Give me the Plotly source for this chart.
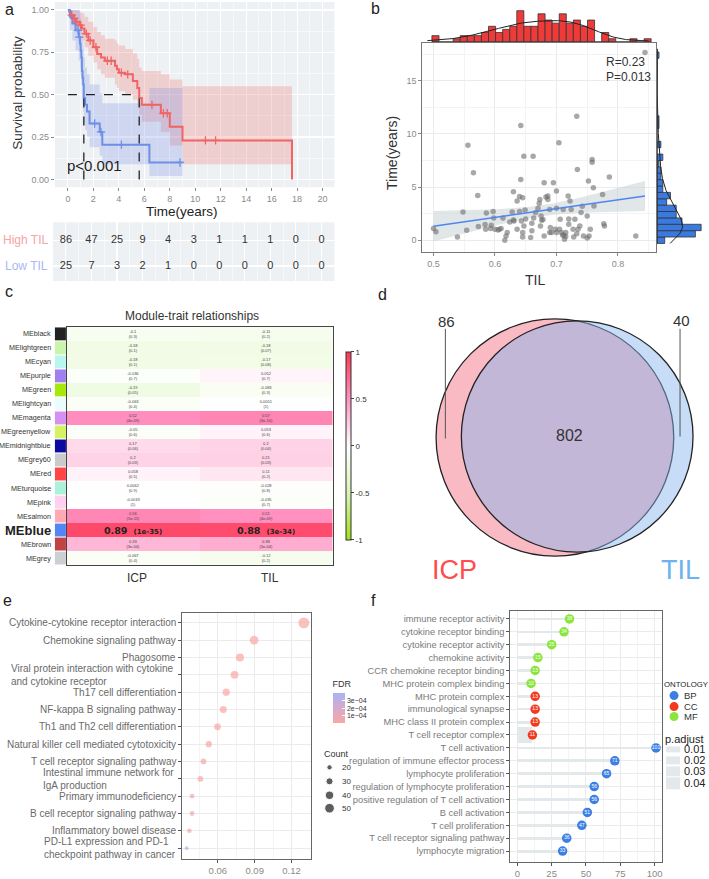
import numpy as np
import plotly.graph_objects as go

W, H = 709, 879
FONT = "Liberation Sans, Arial, sans-serif"
GREY_TXT = "#8a8a8a"

def dom_x(a, b):
    return [a / W, b / W]

def dom_y(top, bot):
    return [1 - bot / H, 1 - top / H]

# ---------------- panel a: Kaplan-Meier ----------------
high_t = [0, 0.1, 0.25, 0.4, 0.6, 0.9, 1.1, 1.3, 1.6, 2.0, 2.3, 2.6, 2.9, 3.7, 3.85, 4.0, 4.5, 5.1, 5.45, 5.6, 5.8, 7.3, 8.0, 9.0, 17.6]
high_s = [1.0, 0.99, 0.97, 0.95, 0.93, 0.91, 0.89, 0.86, 0.82, 0.78, 0.74, 0.72, 0.70, 0.67, 0.65, 0.63, 0.62, 0.58, 0.54, 0.48, 0.44, 0.39, 0.31, 0.23, 0.0]
high_up = [1.0, 1.0, 1.0, 1.0, 1.0, 0.99, 0.98, 0.96, 0.93, 0.90, 0.87, 0.85, 0.83, 0.82, 0.80, 0.79, 0.77, 0.745, 0.71, 0.66, 0.64, 0.62, 0.59, 0.55, 0.55]
high_lo = [1.0, 0.97, 0.94, 0.91, 0.88, 0.85, 0.82, 0.78, 0.73, 0.69, 0.65, 0.62, 0.60, 0.56, 0.54, 0.52, 0.50, 0.47, 0.43, 0.38, 0.34, 0.28, 0.20, 0.09, 0.09]
high_cens = [0.3, 0.5, 0.7, 1.0, 1.45, 1.75, 2.2, 3.1, 3.4, 4.2, 4.7, 6.6, 7.5, 7.8, 10.8, 11.6]

low_t = [0, 0.15, 0.35, 0.6, 0.85, 0.95, 1.0, 1.05, 1.1, 1.15, 1.2, 1.25, 1.35, 1.5, 1.7, 2.5, 2.7, 6.4, 9.0]
low_s = [1.0, 0.96, 0.92, 0.88, 0.84, 0.80, 0.76, 0.72, 0.64, 0.60, 0.56, 0.48, 0.44, 0.40, 0.33, 0.28, 0.205, 0.10, 0.10]
low_up = [1.0, 1.0, 1.0, 1.0, 1.0, 0.98, 0.95, 0.92, 0.86, 0.82, 0.78, 0.72, 0.66, 0.62, 0.56, 0.51, 0.45, 0.54, 0.54]
low_lo = [1.0, 0.88, 0.82, 0.76, 0.70, 0.66, 0.61, 0.56, 0.48, 0.44, 0.40, 0.33, 0.29, 0.25, 0.19, 0.14, 0.09, 0.02, 0.02]
low_cens = [0.8, 0.9, 2.1, 2.6, 4.2, 8.8]

risk_times = [0, 2, 4, 6, 8, 10, 12, 14, 16, 18, 20]
high_risk = [86, 47, 25, 9, 4, 3, 1, 1, 1, 0, 0]
low_risk = [25, 7, 3, 2, 1, 0, 0, 0, 0, 0, 0]
risk_groups = ["High TIL", "Low TIL"]
km_pvalue = "p<0.001"

# ---------------- panel b: scatter TIL vs time ----------------
b_til = [0.500, 0.504, 0.539, 0.548, 0.554, 0.556, 0.565, 0.572, 0.573, 0.586,
         0.584, 0.585, 0.593, 0.597, 0.598, 0.594, 0.600, 0.605, 0.607, 0.613,
         0.616, 0.618, 0.620, 0.624, 0.628, 0.630, 0.631, 0.636, 0.636, 0.640,
         0.642, 0.642, 0.643, 0.645, 0.645, 0.645, 0.647, 0.647, 0.649, 0.658,
         0.662, 0.663, 0.666, 0.672, 0.673, 0.674, 0.675, 0.676, 0.678, 0.680,
         0.683, 0.686, 0.686, 0.689, 0.689, 0.692, 0.695, 0.698, 0.700, 0.700,
         0.704, 0.705, 0.706, 0.708, 0.711, 0.712, 0.713, 0.715, 0.715, 0.719,
         0.722, 0.724, 0.727, 0.728, 0.730, 0.733, 0.735, 0.733, 0.734, 0.738,
         0.740, 0.742, 0.744, 0.750, 0.752, 0.753, 0.755, 0.758, 0.758, 0.760,
         0.761, 0.777, 0.778, 0.786, 0.775, 0.829, 0.844, 0.660, 0.690, 0.710,
         0.650, 0.610, 0.720, 0.700, 0.670, 0.680, 0.750, 0.660, 0.640, 0.630,
         0.720]
b_time = [1.10, 0.80, 0.30, 2.66, 0.94, 8.94, 6.34, 4.20, 1.28, 2.56,
          1.47, 1.03, 1.10, 2.70, 2.10, 1.40, 1.03, 0.97, 1.03, 2.10,
          0.00, 0.40, 0.72, 1.72, 2.66, 4.56, 1.80, 3.69, 1.03, 4.10,
          5.72, 10.78, 1.80, 4.00, 0.30, 0.72, 7.90, 1.34, 2.84, 0.25,
          7.90, 2.10, 2.60, 3.47, 3.84, 1.34, 2.28, 1.88, 1.94, 5.40,
          4.06, 3.84, 4.16, 0.72, 2.90, 0.72, 5.40, 1.03, 4.62, 0.72,
          9.16, 1.03, 1.97, 0.72, 2.90, 0.47, 0.10, 0.72, 0.34, 4.16,
          3.69, 2.90, 1.03, 0.30, 1.97, 0.62, 1.03, 11.66, 6.66, 1.34,
          2.60, 3.20, 0.40, 2.28, 5.56, 0.40, 1.03, 7.60, 7.34, 4.94,
          3.22, 1.56, 1.34, 5.94, 4.30, 0.40, 17.66, 0.90, 1.20, 0.50,
          2.00, 1.10, 1.50, 3.00, 3.00, 0.40, 0.20, 1.60, 2.70, 1.90,
          2.00]
b_stats = ["R=0.23", "P=0.013"]

# ---------------- panel c: module-trait heatmap ----------------
modules = ["MEblack", "MElightgreen", "MEcyan", "MEpurple", "MEgreen", "MElightcyan",
           "MEmagenta", "MEgreenyellow", "MEmidnightblue", "MEgrey60", "MEred",
           "MEturquoise", "MEpink", "MEsalmon", "MEblue", "MEbrown", "MEgrey"]
module_colors = ["#222222", "#c9f5aa", "#b9f6ef", "#a07ff0", "#a6e80a", "#eafcfc",
                 "#d590f2", "#d6f262", "#0a0aa0", "#c8cacc", "#ff4545",
                 "#aaf2d8", "#ffd0f0", "#ffa9b2", "#5485f6", "#c04242", "#cdd0d2"]
traits = ["ICP", "TIL"]
icp_r = [-0.1, -0.18, -0.18, -0.036, -0.19, -0.063, 0.52, -0.05, 0.17, 0.2, 0.058, 0.0062, -0.0033, 0.56, 0.89, 0.33, -0.067]
icp_p = ["0.3", "0.1", "0.1", "0.7", "0.05", "0.4", "4e-09", "0.6", "0.06", "0.03", "0.5", "0.9", "1", "5e-11", "1e-35", "3e-04", "0.4"]
til_r = [-0.11, -0.18, -0.17, 0.052, -0.083, 0.0051, 0.57, 0.053, 0.2, 0.21, 0.11, -0.028, -0.035, 0.51, 0.88, 0.38, -0.12]
til_p = ["0.2", "0.07", "0.08", "0.7", "0.3", "1", "3e-10", "0.6", "0.04", "0.03", "0.2", "0.8", "0.7", "4e-09", "3e-34", "3e-04", "0.2"]

# ---------------- panel d: Venn ----------------
venn_icp_only = 86
venn_both = 802
venn_til_only = 40
venn_sets = ["ICP", "TIL"]

# ---------------- panel e: KEGG dot plot ----------------
kegg_terms = ["Cytokine-cytokine receptor interaction", "Chemokine signaling pathway", "Phagosome",
              "Viral protein interaction with cytokine <br>and cytokine receptor",
              "Th17 cell differentiation", "NF-kappa B signaling pathway",
              "Th1 and Th2 cell differentiation", "Natural killer cell mediated cytotoxicity",
              "T cell receptor signaling pathway", "Intestinal immune network for <br>IgA production",
              "Primary immunodeficiency", "B cell receptor signaling pathway",
              "Inflammatory bowel disease", "PD-L1 expression and PD-1<br>checkpoint pathway in cancer"]
kegg_ratio = [0.130, 0.0895, 0.078, 0.0736, 0.0668, 0.0644, 0.0597, 0.0526, 0.0483, 0.0458, 0.039, 0.039, 0.0368, 0.0346]
kegg_count = [61, 42, 37, 35, 31, 30, 28, 25, 23, 22, 18, 18, 17, 14]
kegg_fdr = [2e-6, 5e-6, 8e-6, 1e-5, 1.2e-5, 1.4e-5, 1.6e-5, 2e-5, 2.4e-5, 2.8e-5, 3.2e-5, 3.6e-5, 4.2e-5, 3.7e-4]
count_legend = [20, 30, 40, 50]
fdr_ticks = [1e-4, 2e-4, 3e-4]

# ---------------- panel f: GO lollipop ----------------
go_terms = ["immune receptor activity", "cytokine receptor binding", "cytokine receptor activity",
            "chemokine activity", "CCR chemokine receptor binding", "MHC protein complex binding",
            "MHC protein complex", "immunological synapse", "MHC class II protein complex",
            "T cell receptor complex", "T cell activation", "regulation of immune effector process",
            "lymphocyte proliferation", "regulation of lymphocyte proliferation",
            "positive regulation of T cell activation", "B cell activation", "T cell proliferation",
            "T cell receptor signaling pathway", "lymphocyte migration"]
go_count = [38, 34, 25, 15, 13, 10, 13, 13, 13, 11, 101, 71, 65, 56, 56, 51, 47, 36, 33]
go_ont = ["MF"] * 6 + ["CC"] * 4 + ["BP"] * 9
go_padj = [0.004, 0.004, 0.005, 0.006, 0.006, 0.008, 0.004, 0.005, 0.006, 0.045,
           0.002, 0.003, 0.003, 0.004, 0.004, 0.005, 0.005, 0.006, 0.006]
ont_colors = {"BP": "#3b7fe3", "CC": "#f23a1e", "MF": "#8be53c"}
padj_legend = [0.01, 0.02, 0.03, 0.04]

# ======================================================
fig = go.Figure()

def step_band(xs, lo, up, fill, xa, ya):
    fig.add_trace(go.Scatter(x=xs, y=lo, mode="lines", line=dict(width=0, shape="hv"),
                             xaxis=xa, yaxis=ya, showlegend=False, hoverinfo="skip"))
    fig.add_trace(go.Scatter(x=xs, y=up, mode="lines", line=dict(width=0, shape="hv"),
                             fill="tonexty", fillcolor=fill, xaxis=xa, yaxis=ya,
                             showlegend=False, hoverinfo="skip"))

RED_L, BLUE_L = "#f06464", "#6d90e6"
step_band(high_t, high_lo, high_up, "rgba(240,120,120,0.28)", "x", "y")
step_band(low_t, low_lo, low_up, "rgba(120,140,230,0.26)", "x", "y")
fig.add_trace(go.Scatter(x=high_t, y=high_s, mode="lines", line=dict(color=RED_L, width=2, shape="hv"),
                         xaxis="x", yaxis="y", showlegend=False))
fig.add_trace(go.Scatter(x=low_t, y=low_s, mode="lines", line=dict(color=BLUE_L, width=2, shape="hv"),
                         xaxis="x", yaxis="y", showlegend=False))

def surv_at(ts, ss, t):
    idx = np.searchsorted(np.array(ts), t, side="right") - 1
    return ss[idx]

fig.add_trace(go.Scatter(x=high_cens, y=[surv_at(high_t, high_s, t) for t in high_cens], mode="markers",
                         marker=dict(symbol="cross-thin", size=6, line=dict(color=RED_L, width=1.3)),
                         xaxis="x", yaxis="y", showlegend=False))
fig.add_trace(go.Scatter(x=low_cens, y=[surv_at(low_t, low_s, t) for t in low_cens], mode="markers",
                         marker=dict(symbol="cross-thin", size=6, line=dict(color=BLUE_L, width=1.3)),
                         xaxis="x", yaxis="y", showlegend=False))

def median_time(ts, ss):
    for t, s in zip(ts, ss):
        if s <= 0.5:
            return t
    return None

med_high = median_time(high_t, high_s)
med_low = median_time(low_t, low_s)
shapes = []
shapes.append(dict(type="rect", xref="x domain", yref="y domain", x0=0, x1=1, y0=0, y1=1,
                   fillcolor="#eef1f3", line=dict(width=0), layer="below"))
shapes.append(dict(type="rect", xref="x2 domain", yref="y2 domain", x0=0, x1=1, y0=0, y1=1,
                   fillcolor="#eef1f3", line=dict(width=0), layer="below"))
shapes.append(dict(type="line", xref="x", yref="y", x0=0, x1=max(med_high, med_low), y0=0.5, y1=0.5,
                   line=dict(color="#222", width=1.3, dash="dash")))
for m in (med_high, med_low):
    shapes.append(dict(type="line", xref="x", yref="y", x0=m, x1=m, y0=0, y1=0.5,
                       line=dict(color="#222", width=1.3, dash="dash")))

# risk table
for yv, vals in ((1, high_risk), (0, low_risk)):
    fig.add_trace(go.Scatter(x=risk_times, y=[yv] * len(vals), mode="text", text=[str(v) for v in vals],
                             textfont=dict(size=11, color="#333", family=FONT), xaxis="x2", yaxis="y2",
                             showlegend=False))

# ---------------- panel b ----------------
til = np.array(b_til)
tm = np.array(b_time)
n = len(til)
slope, intercept = np.polyfit(til, tm, 1)
xs = np.linspace(til.min(), til.max(), 80)
yfit = intercept + slope * xs
resid = tm - (intercept + slope * til)
s_err = np.sqrt((resid ** 2).sum() / (n - 2))
se = s_err * np.sqrt(1 / n + (xs - til.mean()) ** 2 / ((til - til.mean()) ** 2).sum())
fig.add_trace(go.Scatter(x=xs, y=yfit - 1.98 * se, mode="lines", line=dict(width=0), xaxis="x3", yaxis="y3",
                         showlegend=False, hoverinfo="skip"))
fig.add_trace(go.Scatter(x=xs, y=yfit + 1.98 * se, mode="lines", line=dict(width=0), fill="tonexty",
                         fillcolor="rgba(200,210,214,0.55)", xaxis="x3", yaxis="y3", showlegend=False,
                         hoverinfo="skip"))
fig.add_trace(go.Scatter(x=til, y=tm, mode="markers", marker=dict(color="rgba(110,110,110,0.6)", size=5.5),
                         xaxis="x3", yaxis="y3", showlegend=False))
fig.add_trace(go.Scatter(x=xs, y=yfit, mode="lines", line=dict(color="#4f86ee", width=1.4), xaxis="x3",
                         yaxis="y3", showlegend=False))

def kde(data, grid):
    bw = 1.06 * data.std() * len(data) ** (-0.2)
    return np.exp(-0.5 * ((grid[:, None] - data[None, :]) / bw) ** 2).sum(1) / (len(data) * bw * np.sqrt(2 * np.pi))

tbin = 0.0115
tedges = np.arange(0.4975, til.max() + tbin, tbin)
tcounts, _ = np.histogram(til, bins=tedges)
fig.add_trace(go.Histogram(x=til, xbins=dict(start=tedges[0], end=tedges[-1], size=tbin),
                           marker=dict(color="#f03a3a", line=dict(color="#333", width=0.8)),
                           xaxis="x4", yaxis="y4", showlegend=False))
gx = np.linspace(0.49, 0.85, 200)
fig.add_trace(go.Scatter(x=gx, y=kde(til, gx) * n * tbin, mode="lines", line=dict(color="#222", width=1),
                         xaxis="x4", yaxis="y4", showlegend=False))

ybin = 0.6
yedges = np.arange(-0.3, tm.max() + ybin, ybin)
ycounts, _ = np.histogram(tm, bins=yedges)
fig.add_trace(go.Histogram(y=tm, ybins=dict(start=yedges[0], end=yedges[-1], size=ybin),
                           marker=dict(color="#3a7ae0", line=dict(color="#333", width=0.8)),
                           xaxis="x5", yaxis="y5", showlegend=False))
gy = np.linspace(-0.3, 18, 300)
fig.add_trace(go.Scatter(x=kde(tm, gy) * n * ybin, y=gy, mode="lines", line=dict(color="#222", width=1),
                         xaxis="x5", yaxis="y5", showlegend=False))
shapes.append(dict(type="line", xref="x4", yref="y4", x0=tedges[0], x1=tedges[-1], y0=0, y1=0,
                   line=dict(color="#333", width=1.5)))
shapes.append(dict(type="line", xref="x5", yref="y5", x0=0, x1=0, y0=yedges[0], y1=yedges[-1],
                   line=dict(color="#333", width=1.5)))

# ---------------- panel c ----------------
zc = [[a, b] for a, b in zip(icp_r, til_r)]
txt = []
for i in range(len(modules)):
    if modules[i] == "MEblue":
        txt.append(["", ""])
    else:
        txt.append([f"{icp_r[i]}<br>({icp_p[i]})", f"{til_r[i]}<br>({til_p[i]})"])
heat_scale = [[0, "#9ee012"], [0.25, "#d8f5b8"], [0.5, "#ffffff"], [0.75, "#ff92c2"], [1, "#ff3552"]]
fig.add_trace(go.Heatmap(z=zc, x=[0, 1], y=list(range(len(modules))), zmin=-1, zmax=1,
                         colorscale=heat_scale, text=txt, texttemplate="%{text}",
                         textfont=dict(size=4, color="#444"), xaxis="x6", yaxis="y6", showscale=True,
                         colorbar=dict(x=336 / W, xanchor="left", y=1 - 447.5 / H, yanchor="middle",
                                       len=209 / H, lenmode="fraction", thickness=5, outlinewidth=1,
                                       outlinecolor="#333", tickvals=[-1, -0.5, 0, 0.5, 1],
                                       ticktext=["-1", "-0.5", "0", "0.5", "1"], ticks="outside", ticklen=3,
                                       tickfont=dict(size=8, color="#333", family=FONT))))
annotations = []
for i, (mname, mcol) in enumerate(zip(modules, module_colors)):
    shapes.append(dict(type="rect", xref="paper", yref="y6", x0=55 / W, x1=66 / W, y0=i - 0.46, y1=i + 0.46,
                       fillcolor=mcol, line=dict(width=0)))
    big = mname == "MEblue"
    annotations.append(dict(xref="paper", yref="y6", x=53 / W, y=i, xanchor="right", yanchor="middle",
                            text=f"<b>{mname}</b>" if big else mname, showarrow=False,
                            font=dict(size=13 if big else 7.2, color="#222" if big else "#333", family=FONT)))
    if big:
        for j, (rv, pv) in enumerate(((icp_r[i], icp_p[i]), (til_r[i], til_p[i]))):
            annotations.append(dict(xref="x6", yref="y6", x=j, y=i, showarrow=False,
                                    text=f"<b>{rv}</b>  <b><span style='font-size:7px'>({pv})</span></b>",
                                    font=dict(size=9.5, color="#222", family="DejaVu Sans, sans-serif")))

# ---------------- panel e ----------------
def dot_size(c):
    return float(np.sqrt(max(2.2 * c - 16, 6)))

fig.add_trace(go.Scatter(x=kegg_ratio, y=list(range(len(kegg_terms))), mode="markers",
                         marker=dict(size=[dot_size(c) for c in kegg_count], color=kegg_fdr,
                                     colorscale=[[0, "#f7a8a3"], [0.5, "#d5aacd"], [1, "#aab4f2"]],
                                     cmin=1e-5, cmax=4.03e-4, line=dict(width=0),
                                     colorbar=dict(x=323 / W, xanchor="left", y=1 - 702.5 / H, yanchor="middle",
                                                   len=65 / H, lenmode="fraction", thickness=12,
                                                   outlinewidth=0,
                                                   title=dict(text="FDR", side="top",
                                                              font=dict(size=9, color="#333", family=FONT)),
                                                   tickvals=fdr_ticks,
                                                   ticktext=["1e−04", "2e−04", "3e−04"],
                                                   ticks="inside", ticklen=3, tickcolor="white",
                                                   tickfont=dict(size=7, color="#333", family=FONT))),
                         xaxis="x7", yaxis="y7", showlegend=False))
for i, term in enumerate(kegg_terms):
    annotations.append(dict(xref="paper", yref="y7", x=178 / W, y=i, xanchor="right", yanchor="middle",
                            align="left", text=term, showarrow=False,
                            font=dict(size=10, color="#6a6a6a", family=FONT)))

# ---------------- panel f ----------------
def stick_width(p):
    return 0.2 + max(p - 0.005, 0) / 0.04 * 1.1

fig.add_trace(go.Bar(x=go_count, y=list(range(len(go_terms))), orientation="h",
                     width=[stick_width(p) for p in go_padj], marker=dict(color="#e3e8eb", line=dict(width=0)),
                     xaxis="x8", yaxis="y8", showlegend=False))
fig.add_trace(go.Scatter(x=go_count, y=list(range(len(go_terms))), mode="markers+text",
                         marker=dict(size=9.5, color=[ont_colors[o] for o in go_ont], line=dict(width=0)),
                         text=[str(c) for c in go_count], textposition="middle center",
                         textfont=dict(size=5, color="white", family=FONT),
                         xaxis="x8", yaxis="y8", showlegend=False, cliponaxis=False))

# ---------------- overlay legends ----------------
cl_y = [770, 784, 798, 811]
fig.add_trace(go.Scatter(x=[330] * 4, y=cl_y, mode="markers",
                         marker=dict(size=[dot_size(c) for c in count_legend], color="#1a1a1a"),
                         xaxis="x9", yaxis="y9", showlegend=False))
for c, yy in zip(count_legend, cl_y):
    annotations.append(dict(xref="x9", yref="y9", x=340, y=yy, text=str(c), showarrow=False, xanchor="left",
                            font=dict(size=8, color="#333", family=FONT)))
annotations.append(dict(xref="x9", yref="y9", x=322, y=757, text="Count", showarrow=False, xanchor="left",
                        font=dict(size=9, color="#333", family=FONT)))

ont_y = [698, 709, 719]
fig.add_trace(go.Scatter(x=[675] * 3, y=ont_y, mode="markers",
                         marker=dict(size=9, color=[ont_colors[k] for k in ("BP", "CC", "MF")]),
                         xaxis="x9", yaxis="y9", showlegend=False))
for k, yy in zip(("BP", "CC", "MF"), ont_y):
    annotations.append(dict(xref="x9", yref="y9", x=683, y=yy, text=k, showarrow=False, xanchor="left",
                            font=dict(size=9.5, color="#333", family=FONT)))
annotations.append(dict(xref="x9", yref="y9", x=663, y=687, text="ONTOLOGY", showarrow=False, xanchor="left",
                        font=dict(size=7.8, color="#222", family=FONT)))
annotations.append(dict(xref="x9", yref="y9", x=664, y=742, text="p.adjust", showarrow=False, xanchor="left",
                        font=dict(size=11, color="#222", family=FONT)))
pl_y = [752, 763, 774, 786]
for i, (p, yy) in enumerate(zip(padj_legend, pl_y)):
    hh = 3 + i * 1.0
    shapes.append(dict(type="rect", xref="x9", yref="y9", x0=667, x1=681, y0=yy - hh, y1=yy + hh,
                       fillcolor="#e3e8eb", line=dict(width=0)))
    annotations.append(dict(xref="x9", yref="y9", x=683, y=yy, text=f"{p:.2f}", showarrow=False,
                            xanchor="left", font=dict(size=11, color="#222", family=FONT)))

# ---------------- Venn (panel d) ----------------
shapes.append(dict(type="circle", xref="x9", yref="y9", x0=555.7 - 119, x1=555.7 + 119, y0=439 - 119,
                   y1=439 + 119, fillcolor="#f9bac4", line=dict(color="#222", width=1.3)))
shapes.append(dict(type="circle", xref="x9", yref="y9", x0=578 - 116, x1=578 + 116, y0=438 - 116,
                   y1=438 + 116, fillcolor="rgba(134,180,238,0.47)", line=dict(color="#222", width=1.3)))
shapes.append(dict(type="line", xref="x9", yref="y9", x0=446, x1=446, y0=330, y1=440,
                   line=dict(color="#555", width=1)))
shapes.append(dict(type="line", xref="x9", yref="y9", x0=681, x1=681, y0=330, y1=438,
                   line=dict(color="#555", width=1)))
annotations.append(dict(xref="x9", yref="y9", x=447, y=323, text=str(venn_icp_only), showarrow=False,
                        font=dict(size=15, color="#333", family=FONT)))
annotations.append(dict(xref="x9", yref="y9", x=682, y=322, text=str(venn_til_only), showarrow=False,
                        font=dict(size=15, color="#333", family=FONT)))
annotations.append(dict(xref="x9", yref="y9", x=570, y=437, text=str(venn_both), showarrow=False,
                        font=dict(size=16, color="#333", family=FONT)))
annotations.append(dict(xref="x9", yref="y9", x=455, y=572, text=venn_sets[0], showarrow=False,
                        font=dict(size=27, color="#ff4d4d", family=FONT)))
annotations.append(dict(xref="x9", yref="y9", x=681, y=572, text=venn_sets[1], showarrow=False,
                        font=dict(size=27, color="#6db3ef", family=FONT)))

# ---------------- other text ----------------
def txt_ann(x, y, text, size=12, color="#222", angle=0, xanchor="center", yanchor="middle"):
    annotations.append(dict(xref="x9", yref="y9", x=x, y=y, text=text, showarrow=False, textangle=angle,
                            xanchor=xanchor, yanchor=yanchor, font=dict(size=size, color=color, family=FONT)))

for lab, x, y in (("a", 10, 10), ("b", 376, 9), ("c", 9, 292), ("d", 383, 296), ("e", 8, 603), ("f", 374, 603)):
    txt_ann(x, y, lab, size=16, color="#222")
txt_ann(18, 93, "Survival probability", size=13.5, color="#333", angle=-90)
txt_ann(182, 212, "Time(years)", size=13.5, color="#222")
txt_ann(50, 241, risk_groups[0], size=12, color="#f5a3a3", xanchor="right")
txt_ann(50, 267, risk_groups[1], size=12, color="#aab8f2", xanchor="right")
annotations.append(dict(xref="x", yref="y", x=-0.2, y=0.08, text=km_pvalue, showarrow=False, xanchor="left",
                        font=dict(size=15, color="#222", family=FONT)))
txt_ann(536, 281, "TIL", size=14, color="#333")
txt_ann(393, 153, "Time(years)", size=14, color="#333", angle=-90)
txt_ann(605, 62, b_stats[0], size=12, color="#333", xanchor="left")
txt_ann(605, 77, b_stats[1], size=12, color="#333", xanchor="left")
txt_ann(192, 317, "Module-trait relationships", size=12, color="#333")
txt_ann(137, 580, traits[0], size=12, color="#333")
txt_ann(270, 580, traits[1], size=12, color="#333")

# ---------------- axes ----------------
def axis(domain, **kw):
    d = dict(domain=domain, showgrid=False, zeroline=False, showticklabels=False, ticks="", fixedrange=True,
             showline=False)
    d.update(kw)
    return d

tickf = dict(size=9, color=GREY_TXT, family=FONT)
layout_axes = dict(
    xaxis=axis(dom_x(55, 335), anchor="y", range=[-1.02, 20.94], tickvals=risk_times, showticklabels=True,
               tickfont=tickf, ticks="outside", ticklen=3, tickcolor="#888", showgrid=True, gridcolor="white",
               gridwidth=1.1, minor=dict(showgrid=True, gridcolor="white", gridwidth=0.5, dtick=1)),
    yaxis=axis(dom_y(2, 188), anchor="x", range=[-0.047, 1.047], tickvals=[0, 0.25, 0.5, 0.75, 1],
               ticktext=["0.00", "0.25", "0.50", "0.75", "1.00"], showticklabels=True, tickfont=tickf,
               ticks="outside", ticklen=3, tickcolor="#888", showgrid=True, gridcolor="white", gridwidth=1.1,
               minor=dict(showgrid=True, gridcolor="white", gridwidth=0.5, dtick=0.125)),
    xaxis2=axis(dom_x(53, 335), anchor="y2", range=[-1.016, 21.02], tickvals=risk_times, showgrid=True,
                gridcolor="white", gridwidth=1.1, minor=dict(showgrid=True, gridcolor="white", gridwidth=0.5,
                                                             dtick=1)),
    yaxis2=axis(dom_y(223, 282), anchor="x2", range=[-0.58, 1.69], tickvals=[0, 1], showgrid=True,
                gridcolor="white", gridwidth=1.1),
    xaxis3=axis(dom_x(423, 657), anchor="y3", range=[0.482, 0.862], tickvals=[0.5, 0.6, 0.7, 0.8],
                showticklabels=True, tickfont=tickf, ticks="outside", ticklen=3, tickcolor="#888",
                showgrid=True, gridcolor="#ebebeb", minor=dict(showgrid=True, gridcolor="#f3f3f3", dtick=0.05),
                showline=True, mirror=True, linecolor="#777", linewidth=1),
    yaxis3=axis(dom_y(43, 253), anchor="x3", range=[-1.12, 18.56], tickvals=[0, 5, 10, 15],
                showticklabels=True, tickfont=tickf, ticks="outside", ticklen=3, tickcolor="#888",
                showgrid=True, gridcolor="#ebebeb", minor=dict(showgrid=True, gridcolor="#f3f3f3", dtick=2.5),
                showline=True, mirror=True, linecolor="#777", linewidth=1),
    xaxis4=axis(dom_x(423, 657), anchor="y4", range=[0.482, 0.862]),
    yaxis4=axis(dom_y(3, 42), anchor="x4", range=[0, max(tcounts) * 1.04]),
    xaxis5=axis(dom_x(658, 703), anchor="y5", range=[0, max(ycounts) * 1.02]),
    yaxis5=axis(dom_y(43, 253), anchor="x5", range=[-1.12, 18.56]),
    xaxis6=axis(dom_x(67, 333), anchor="y6", range=[-0.5, 1.5], showline=True, mirror=True,
                linecolor="#444", linewidth=1),
    yaxis6=axis(dom_y(328, 567), anchor="x6", range=[16.5, -0.5], showline=True, mirror=True,
                linecolor="#444", linewidth=1),
    xaxis7=axis(dom_x(182, 311), anchor="y7", range=[0.0306, 0.1355], tickvals=[0.06, 0.09, 0.12],
                ticktext=["0.06", "0.09", "0.12"], showticklabels=True, tickfont=dict(size=9.5, color=GREY_TXT,
                                                                                     family=FONT),
                ticks="outside", ticklen=3, tickcolor="#555", showgrid=True, gridcolor="#ebebeb",
                minor=dict(showgrid=True, gridcolor="#f4f4f4", dtick=0.015, tick0=0.0),
                showline=True, mirror=True, linecolor="#666", linewidth=1),
    yaxis7=axis(dom_y(615, 862), anchor="x7", range=[13.63, -0.575], tickvals=list(range(len(kegg_terms))),
                showticklabels=False, ticks="outside", ticklen=3, tickcolor="#555", showgrid=True,
                gridcolor="#ebebeb", showline=True, mirror=True, linecolor="#666", linewidth=1),
    xaxis8=axis(dom_x(511, 663), anchor="y8", range=[-5.1, 105.4], tickvals=[0, 25, 50, 75, 100],
                showticklabels=True, tickfont=dict(size=9.5, color=GREY_TXT, family=FONT), ticks="outside",
                ticklen=3, tickcolor="#555", showgrid=True, gridcolor="#ebebeb",
                minor=dict(showgrid=True, gridcolor="#f4f4f4", dtick=12.5, tick0=0),
                showline=True, mirror=True, linecolor="#666", linewidth=1),
    yaxis8=axis(dom_y(613, 865), anchor="x8", range=[18.85, -0.62], tickvals=list(range(len(go_terms))),
                ticktext=go_terms, showticklabels=True, tickfont=dict(size=9.3, color="#7a7a7a", family=FONT),
                ticks="outside", ticklen=3, tickcolor="#555", showgrid=True, gridcolor="#ebebeb",
                showline=True, mirror=True, linecolor="#666", linewidth=1),
    xaxis9=axis([0, 1], anchor="y9", range=[0, W]),
    yaxis9=axis([0, 1], anchor="x9", range=[H, 0]),
)

fig.update_layout(width=W, height=H, margin=dict(l=0, r=0, t=0, b=0), paper_bgcolor="white",
                  plot_bgcolor="rgba(0,0,0,0)", font=dict(family=FONT), showlegend=False,
                  shapes=shapes, annotations=annotations, bargap=0, **layout_axes)
fig.write_html("out.html", config={"staticPlot": True},
               post_script="document.body.style.margin='0';document.body.style.overflow='hidden';")
